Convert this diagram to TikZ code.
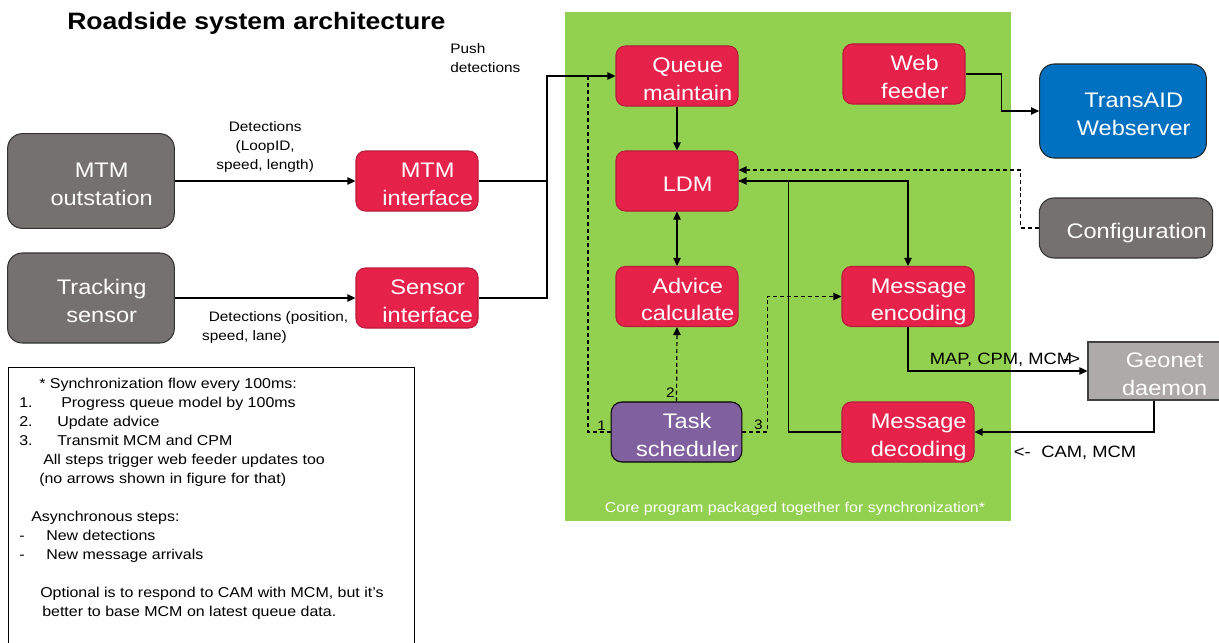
\documentclass[tikz,border=0pt]{standalone}
\usepackage{fontspec}
\setmainfont{Liberation Sans}[FakeStretch=1.12]
\usetikzlibrary{arrows.meta,calc}

\definecolor{boxgray}{RGB}{118,113,113}
\definecolor{boxred}{RGB}{231,34,74}
\definecolor{boxblue}{RGB}{0,112,192}
\definecolor{boxpurple}{RGB}{128,96,158}
\definecolor{netgray}{RGB}{174,170,170}
\definecolor{coregreen}{RGB}{146,208,80}

% text of a unit, a little to the right and lower as in the slide
\newcommand{\unitlbl}[1]{\hspace*{16pt}\raisebox{-3.75pt}[\height][\depth]{\begin{tabular}{@{}c@{}}#1\end{tabular}}}

\tikzset{
  unit/.style={inner sep=0pt, line width=0.8pt, text=white,
    font=\fontsize{15.8}{20.6}\selectfont},
  extunit/.style={unit, draw=black!80, fill=boxgray, rounded corners=11pt,
    minimum width=125pt, minimum height=71pt},
  webunit/.style={unit, draw=black!85, fill=boxblue, rounded corners=11pt,
    minimum width=125pt, minimum height=70.5pt},
  netunit/.style={unit, draw=black!75, fill=netgray,
    minimum width=99pt, minimum height=43.5pt},
  module/.style={unit, draw=boxred!80!black, fill=boxred, rounded corners=7pt,
    minimum width=91.5pt, minimum height=45pt},
  taskunit/.style={unit, draw=black, fill=boxpurple, rounded corners=8pt,
    minimum width=98pt, minimum height=45pt},
  conn/.style={line width=0.9pt},
  syncline/.style={conn, dash pattern=on 3pt off 2.2pt},
  lbl/.style={inner sep=0pt, font=\fontsize{10.3}{14.25}\selectfont},
  note/.style={inner sep=0pt, font=\fontsize{10.7}{14.25}\selectfont},
  msg/.style={inner sep=0pt, font=\fontsize{12.3}{15}\selectfont},
}

\begin{document}
\begin{tikzpicture}[x=0.75pt, y=-0.75pt, >={Triangle[length=6pt,width=5.5pt]}]
  \useasboundingbox (0,0) rectangle (1219,642);

  % core program area
  \fill[coregreen] (565,12) rectangle (1011,521);
  \node[note, text=white] (corelbl) at (795,509) {Core program packaged together for synchronization*};

  % title
  \node[anchor=west, inner sep=0pt, font=\bfseries\fontsize{17.8}{21}\selectfont] (title) at (67,23) {Roadside system architecture};

  % outside units
  \node[extunit] (outst) at (91,181) {\unitlbl{MTM\\outstation}};
  \node[extunit, minimum height=67.5pt] (track) at (91,298) {\unitlbl{Tracking\\sensor}};
  \node[extunit, minimum width=130pt, minimum height=45pt] (config) at (1126,228) {\unitlbl{Configuration}};
  \node[webunit] (transaid) at (1123,111) {\unitlbl{TransAID\\Webserver}};
  \node[netunit] (geonet) at (1154,371) {\unitlbl{Geonet\\daemon}};

  % interfaces
  \node[module] (mtmif) at (417,181) {\unitlbl{MTM\\interface}};
  \node[module] (sensif) at (417,298) {\unitlbl{Sensor\\interface}};

  % core modules
  \node[module] (queue) at (677,76) {\unitlbl{Queue\\maintain}};
  \node[module] (web) at (904,74) {\unitlbl{Web\\feeder}};
  \node[module] (ldm) at (677,181) {\unitlbl{LDM}};
  \node[module] (advice) at (677,296.5) {\unitlbl{Advice\\calculate}};
  \node[module, minimum width=99pt] (enc) at (908,296.5) {\unitlbl{Message\\encoding}};
  \node[module, minimum width=99pt] (dec) at (908,432) {\unitlbl{Message\\decoding}};
  \node[taskunit] (task) at (676.5,432) {\unitlbl{Task\\scheduler}};

  % detections from the field
  \draw[conn,->] (outst.east) -- (mtmif.west)
    node[lbl, midway, above=6pt, align=center] (mtmlbl) {Detections\\(LoopID,\\speed, length)};
  \draw[conn,->] (track.east) -- (sensif.west)
    node[lbl, midway, below=10pt, xshift=7.5pt, align=left] (senslbl) {\hspace*{5pt}Detections (position,\\speed, lane)};

  % push detections into the queue
  \coordinate (push) at (547,76);
  \draw[conn] (mtmif.east) -- (mtmif.east -| push);
  \draw[conn,->] (sensif.east) -| (push) -- (queue.west);
  \node[lbl, anchor=west, align=left] (pushlbl) at (450,58) {Push\\detections};

  % core links
  \draw[conn,->] (queue.south) -- (ldm.north);
  \draw[conn,<->] (ldm.south) -- (advice.north);
  \draw[conn,->] (web.east) -- ++(36,0) |- (transaid.west);
  \draw[syncline,->] (config.west) -- ++(-18,0) |- ($(ldm.east)+(0,-11)$);
  \draw[conn,->] (dec.west) -- ++(-53,0) |- (ldm.east);
  \draw[conn,->] (ldm.east) -| (enc.north);
  \draw[conn,->] (enc.south) |- (geonet.west)
    node[msg, pos=0.77, above=3pt] (maplbl) {MAP, CPM, MCM\kern-.55em->};
  \draw[conn,->] (geonet.south) |- (dec.east)
    node[msg, pos=0.72, below=10pt] (camlbl) {<-\hspace{8pt}CAM, MCM};

  % synchronization steps
  \draw[syncline] (task.west) -| ($(push)+(41,0)$)
    node[lbl, pos=0.2, above=1pt] (step1) {1};
  \draw[syncline,->] (task.north) -- (advice.south)
    node[lbl, pos=0.12, left=1pt] (step2) {2};
  \draw[syncline,->] (task.east) -- ++(25,0)
    node[lbl, pos=0.64, above=1pt] (step3) {3} |- (enc.west);

  % notes
  \draw[line width=0.6pt] (8,367) rectangle (414,650);
  \node[note, anchor=north west, align=left] (notes) at (19,377.5) {%
    \hspace*{15pt}* Synchronization flow every 100ms:\\
    \makebox[31.5pt][l]{1.}Progress queue model by 100ms\\
    \makebox[28.5pt][l]{2.}Update advice\\
    \makebox[28.5pt][l]{3.}Transmit MCM and CPM\\
    \hspace*{18pt}All steps trigger web feeder updates too\\
    \hspace*{15pt}(no arrows shown in figure for that)\\[14.25pt]
    \hspace*{9pt}Asynchronous steps:\\
    \makebox[20.25pt][l]{-}New detections\\
    \makebox[20.25pt][l]{-}New message arrivals\\[14.25pt]
    \hspace*{15.75pt}Optional is to respond to CAM with MCM, but it's\\
    \hspace*{17.25pt}better to base MCM on latest queue data.};
\end{tikzpicture}
\end{document}
